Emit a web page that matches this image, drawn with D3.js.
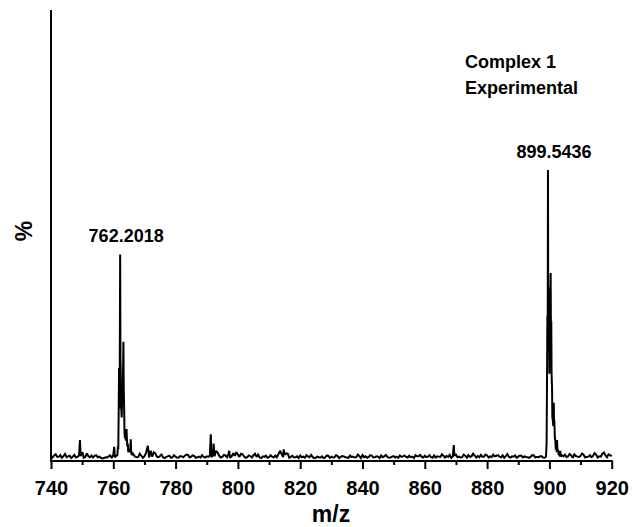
<!DOCTYPE html>
<html>
<head>
<meta charset="utf-8">
<script src="https://cdn.jsdelivr.net/npm/d3@7"></script>
<style>
  html, body { margin: 0; padding: 0; background: #fff; }
  svg { display: block; font-family: "Liberation Sans", Arial, sans-serif; font-weight: bold; }
</style>
</head>
<body>
<svg id="chart" width="632" height="527"></svg>
<script>
// ---- data ----
const xDomain = [740, 920];
const majorTicks = [740, 760, 780, 800, 820, 840, 860, 880, 900, 920];
const minorTicks = [750, 770, 790, 810, 830, 850, 870, 890, 910];
// baseline noise at whole m/z values (740 ... 920)
const noiseStartMz = 740;
const noiseWhole = [
  1.6,1.9,1.4,2.0,1.7,1.3,1.8,1.5,1.2,1.9, 2.2,1.4,1.6,1.9,1.8,1.3,1.1,1.0,1.2,1.9,
  2.1,1.8,1.5,1.9,1.6,2.3,1.7,1.9,1.4,1.8, 1.6,2.4,2.0,1.9,1.5,1.7,1.2,1.4,1.8,1.3,
  1.5,1.2,1.6,1.8,2.1,1.5,1.7,1.3,1.2,1.4, 1.6,1.9,2.0,2.2,1.8,1.4,1.9,2.4,1.6,1.8,
  2.2,1.9,1.5,1.3,1.7,2.0,1.4,1.2,1.6,1.8, 1.3,1.5,1.9,2.3,2.5,2.1,1.7,1.4,1.2,1.6,
  1.9,1.5,2.0,1.3,1.4,1.1,1.3,1.6,1.2,1.8, 1.5,1.3,1.7,1.4,1.6,1.2,1.9,1.5,1.3,1.7,
  2.0,1.6,1.4,1.8,1.3,1.5,1.9,1.6,1.4,1.2, 1.7,1.5,1.9,1.6,1.4,1.8,1.5,2.0,1.6,1.4,
  1.8,1.5,1.3,1.9,1.6,1.4,1.8,1.7,2.1,1.6, 2.2,1.5,1.3,1.8,2.0,1.6,1.9,1.7,2.1,1.5,
  1.9,1.6,2.2,1.8,1.5,2.0,1.7,1.4,1.6,1.9, 1.5,1.8,1.6,1.3,1.5,1.9,1.4,1.6,1.2,1.5,
  1.8,2.0,1.6,2.4,1.9,2.2,1.6,1.9,2.3,1.5, 1.8,2.1,1.4,2.0,1.7,2.2,1.6,2.5,1.9,2.3,1.7
];
// baseline noise at half m/z values (740.5 ... 919.5)
const noiseHalf = [
  1.2,2.3,1.5,1.1,2.4,1.6,1.0,2.1,1.4,1.7, 1.1,2.6,1.3,1.2,2.0,1.5,0.9,1.3,1.6,1.0,
  1.3,1.1,2.0,1.2,1.4,1.0,2.2,1.3,2.5,1.1, 2.8,1.2,1.5,2.6,1.3,2.2,1.0,1.6,1.1,2.0,
  1.1,1.7,1.3,2.2,1.2,1.9,1.1,1.5,2.0,1.2, 1.4,1.3,1.6,2.9,1.2,2.1,1.3,1.1,2.7,1.2,
  1.4,2.3,1.1,1.9,1.2,1.3,2.2,1.0,1.4,1.1, 2.0,1.2,1.3,1.6,1.3,2.6,1.1,1.8,1.3,1.0,
  1.3,1.1,1.6,2.1,1.0,1.5,1.2,1.0,1.9,1.1, 1.2,2.0,1.0,1.7,1.3,1.1,1.4,1.2,2.2,1.0,
  1.3,1.1,2.0,1.2,1.6,1.0,1.3,2.1,1.1,1.5, 1.2,1.1,1.4,1.9,1.2,1.3,1.0,1.6,2.1,1.2,
  1.3,2.0,1.1,1.2,1.5,2.3,1.2,1.4,1.1,1.8, 1.3,1.2,2.2,1.1,1.4,2.5,1.2,1.3,1.5,2.2,
  1.2,1.4,1.6,2.0,1.3,1.1,2.4,1.2,1.5,1.1, 1.9,1.2,1.4,1.1,2.0,1.2,1.3,1.6,1.1,1.2,
  1.3,1.5,2.8,1.2,1.6,1.3,2.4,1.1,1.7,1.4, 2.6,1.2,1.5,1.3,2.7,1.2,1.5,2.9,1.3,2.0
];
// signal points (m/z, relative intensity %)
const peakMz = [
  749.3, 750.1,
  760.3,
  761.3, 761.5, 761.6, 761.75, 761.85, 761.95, 762.05, 762.2, 762.3, 762.4, 762.55, 762.7,
  762.85, 762.95, 763.1, 763.25, 763.35, 763.45, 763.6, 763.7, 763.85, 764.0, 764.15,
  764.25, 764.35, 764.5, 764.65, 764.8, 764.95, 765.2, 765.4, 765.6, 765.75, 765.9,
  766.1, 766.3, 767.0,
  771.1, 772.0, 773.0,
  791.3, 792.2, 793.0,
  797.2, 799.5, 801.0, 805.5, 813.5, 814.7, 816.0,
  869.3,
  898.9, 899.1, 899.25, 899.35, 899.45, 899.54, 899.62, 899.7, 899.8, 899.9, 900.0,
  900.15, 900.3, 900.4, 900.5, 900.6, 900.7, 900.85, 900.95, 901.1, 901.25, 901.4,
  901.5, 901.6, 901.75, 901.9, 902.05, 902.2, 902.35, 902.45, 902.6, 902.75, 903.0,
  903.2, 903.35, 903.5, 903.7, 904.0
];
const peakIntensity = [
  7.2, 3.0,
  4.9,
  2.0, 5, 4, 20, 32, 18, 25, 71, 35, 30, 18, 15,
  22, 20, 28, 41, 25, 20, 10, 8, 9, 7, 9,
  11, 8, 5, 6, 3, 4, 4, 3, 7.5, 3, 2,
  3, 2.5, 1.5,
  5.2, 3.5, 3.0,
  9.2, 6.0, 3.5,
  3.5, 3.0, 2.5, 2.5, 3.5, 4.0, 2.5,
  5.5,
  1.5, 6, 30, 50, 40, 100, 55, 60, 38, 45, 30,
  40, 50, 64.6, 42, 48, 30, 25, 15, 14, 12, 20,
  12, 14, 8, 7, 4, 5, 3, 7.2, 3, 4, 2,
  3, 1.5, 3.5, 1.5, 2
];
const peakLabels = ["762.2018", "899.5436"];
const peakLabelMz = [762.2, 899.54];
const peakLabelIntensity = [71, 100];
const annotation = ["Complex 1", "Experimental"];
const xTitle = "m/z";
const yTitle = "%";

// ---- build trace ----
const signal = peakMz.map((m, i) => ({ mz: m, v: peakIntensity[i] }));
const noise = noiseWhole.map((v, i) => ({ mz: noiseStartMz + i, v }))
  .concat(noiseHalf.map((v, i) => ({ mz: noiseStartMz + 0.5 + i, v })))
  .filter(p => !signal.some(s => Math.abs(s.mz - p.mz) < 0.15));
const trace = noise.concat(signal).sort((a, b) => a.mz - b.mz);

// ---- layout ----
const svg = d3.select("#chart");
const x = d3.scaleLinear().domain(xDomain).range([51, 611.7]);
const y = d3.scaleLinear().domain([0, 155]).range([461, 10]);

// spectrum line
svg.append("path")
  .datum(trace)
  .attr("fill", "none")
  .attr("stroke", "#000")
  .attr("stroke-width", 2)
  .attr("stroke-linejoin", "miter")
  .attr("stroke-miterlimit", 2)
  .attr("d", d3.line().x(d => x(d.mz)).y(d => y(d.v)));

// left axis (no ticks)
svg.append("line")
  .attr("x1", x(xDomain[0])).attr("x2", x(xDomain[0]))
  .attr("y1", y.range()[1]).attr("y2", y(0))
  .attr("stroke", "#000").attr("stroke-width", 2);

// bottom axis: major ticks
const gx = svg.append("g").attr("transform", `translate(0,${y(0)})`);
gx.call(d3.axisBottom(x).tickValues(majorTicks).tickSize(8).tickSizeOuter(0).tickFormat(d3.format("d")));
gx.select(".domain").attr("stroke-width", 2).attr("d", `M${x.range()[0] - 1},0H${x.range()[1] + 1}`);
gx.selectAll(".tick line").attr("stroke-width", 2);
gx.selectAll(".tick text")
  .attr("y", 34).attr("dy", 0)
  .attr("font-size", 20).attr("font-weight", "bold")
  .attr("font-family", "'Liberation Sans', Arial, sans-serif").attr("fill", "#000");

// minor ticks
const gm = svg.append("g").attr("transform", `translate(0,${y(0)})`);
gm.call(d3.axisBottom(x).tickValues(minorTicks).tickSize(4).tickFormat(""));
gm.select(".domain").remove();
gm.selectAll(".tick line").attr("stroke-width", 2);

// axis titles
svg.append("text")
  .attr("x", 331).attr("y", 522)
  .attr("text-anchor", "middle").attr("font-size", 23)
  .text(xTitle);
svg.append("text")
  .attr("transform", "translate(32,231) rotate(-90)")
  .attr("text-anchor", "middle").attr("font-size", 23)
  .text(yTitle);

// peak labels
svg.selectAll(".plabel").data(peakLabels).enter().append("text")
  .attr("class", "plabel")
  .attr("x", (d, i) => x(peakLabelMz[i]) + 6)
  .attr("y", (d, i) => y(peakLabelIntensity[i]) - 12)
  .attr("text-anchor", "middle").attr("font-size", 18)
  .text(d => d);

// annotation
svg.selectAll(".anno").data(annotation).enter().append("text")
  .attr("class", "anno")
  .attr("x", 465)
  .attr("y", (d, i) => 68 + i * 25.5)
  .attr("font-size", 18)
  .text(d => d);
</script>
</body>
</html>
